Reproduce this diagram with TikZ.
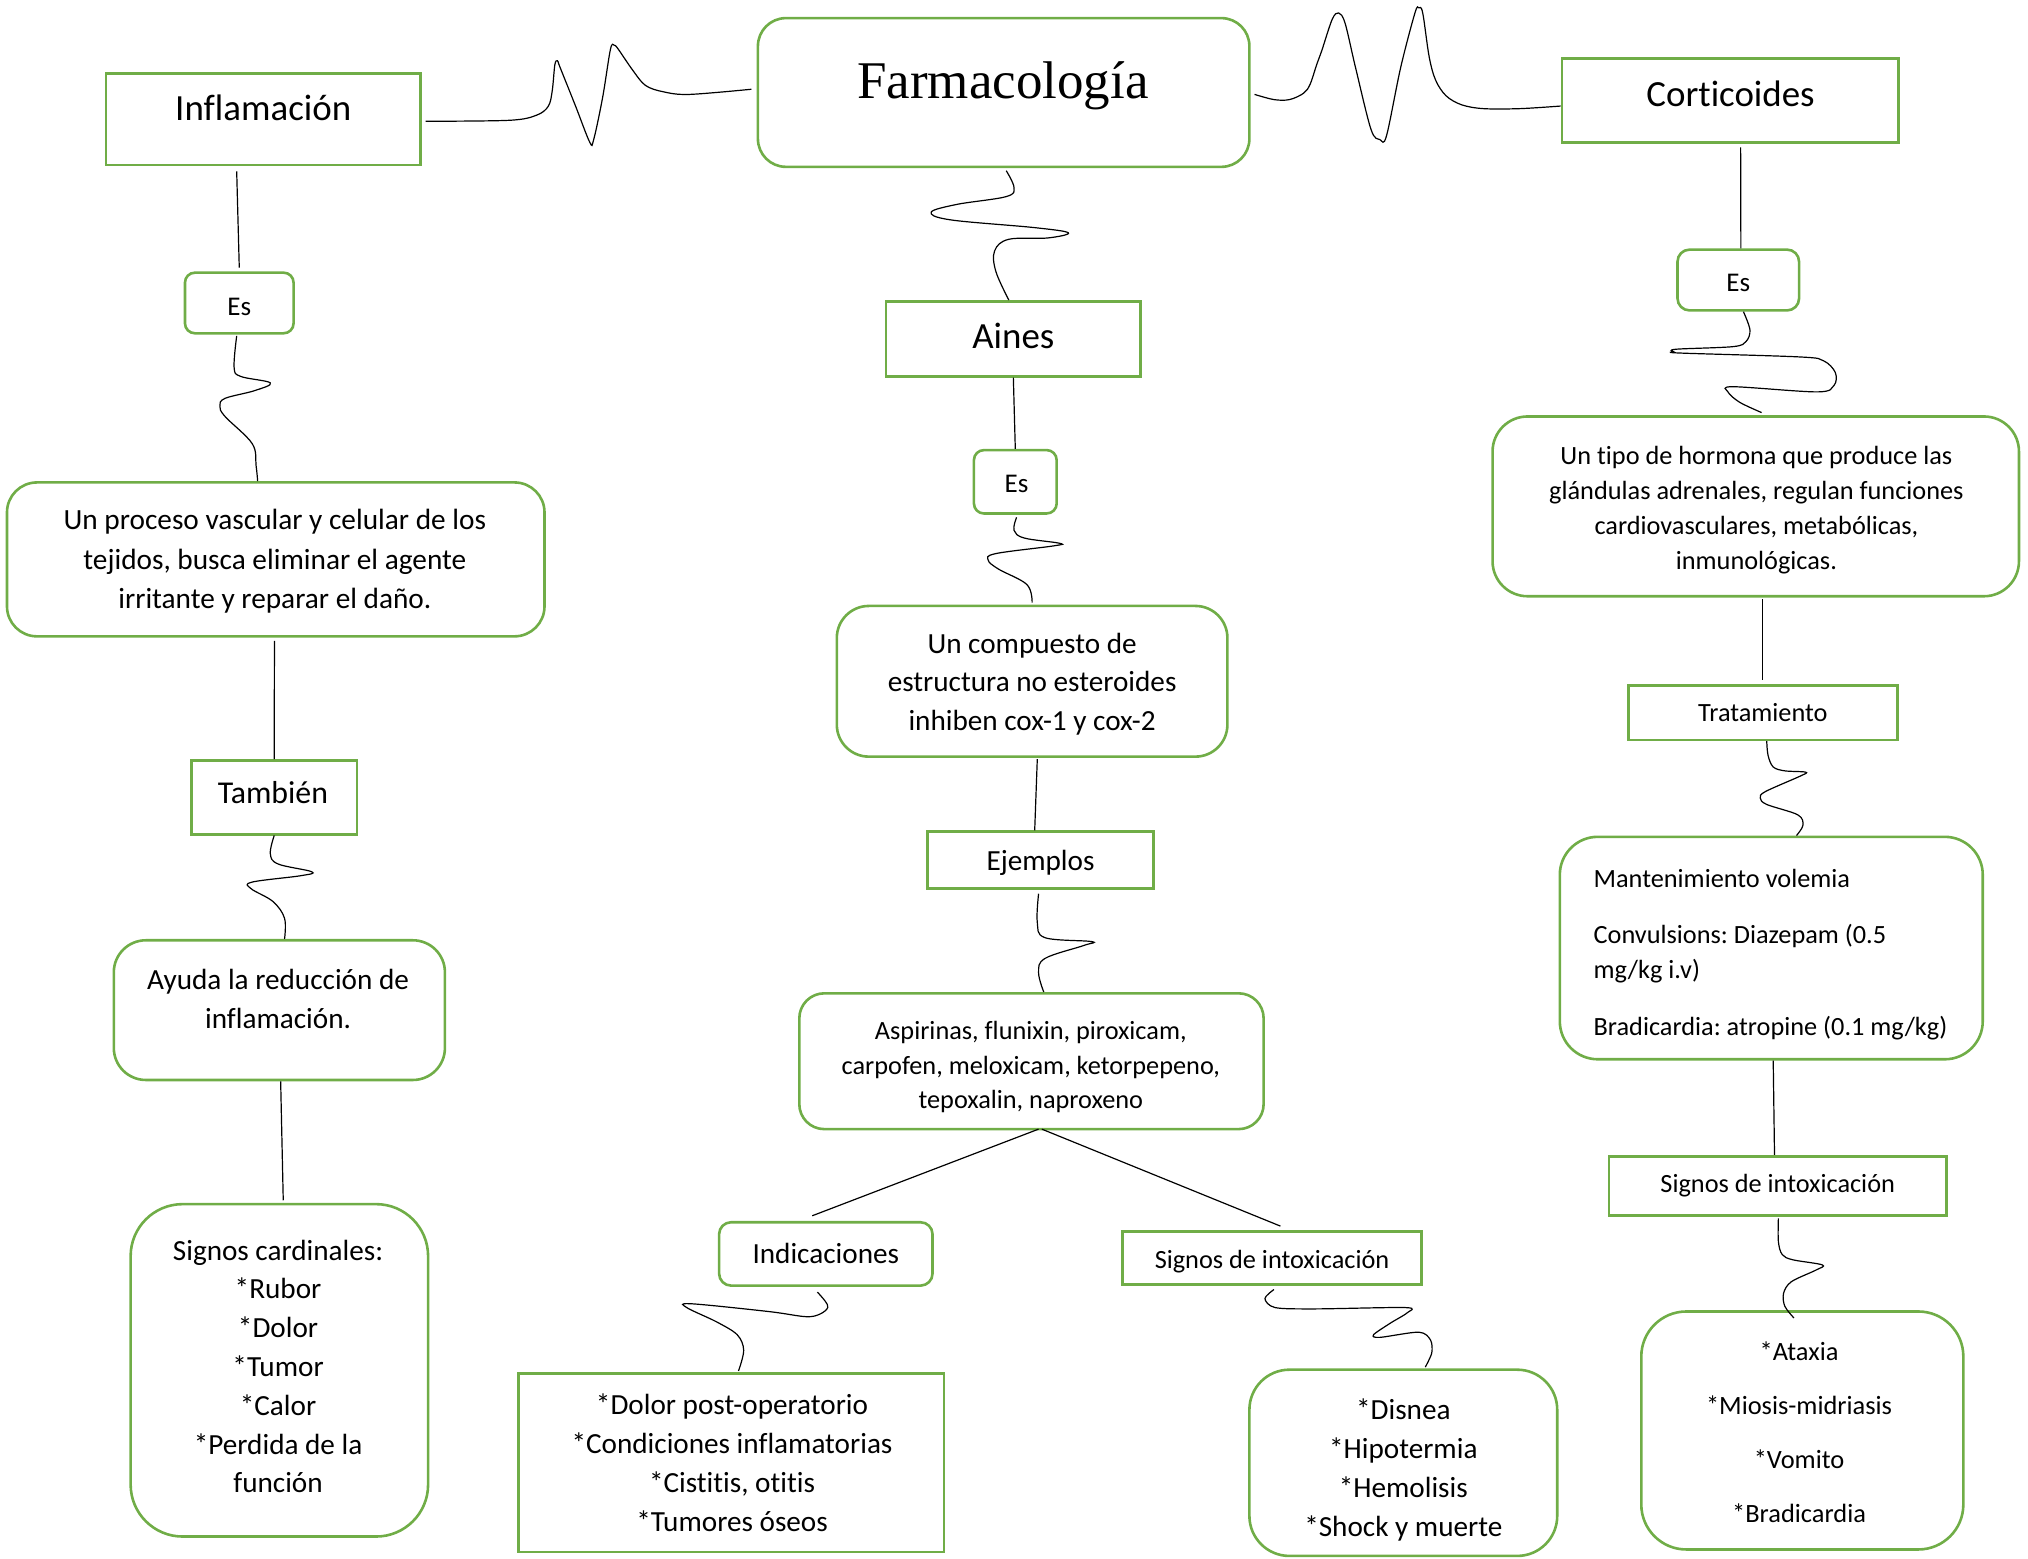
\documentclass[tikz,border=0pt]{standalone}
\usepackage{fontspec}
\setmainfont{Carlito}[Ligatures=NoCommon]
\newfontfamily\titlefont{Liberation Serif}
\usetikzlibrary{calc}
\definecolor{boxgreen}{HTML}{70AD47}
\frenchspacing
\newcommand{\fbig}{\fontsize{36.9}{44}\selectfont}
\newcommand{\fmed}{\fontsize{29.2}{38.8}\selectfont}
\newcommand{\fsm}{\fontsize{26.3}{34.9}\selectfont}
\newcommand{\fes}{\fontsize{27}{32}\selectfont}
\newcommand{\bxat}[6]{\node[#1, minimum width={(#5-#3)*1.2934pt}, minimum height={(#6-#4)*1.2934pt}] (#2) at ({(#3+#5)/2},{(#4+#6)/2}) {};}
\begin{document}
\begin{tikzpicture}[x=1.2934pt,y=-1.2934pt,
  bx/.style={draw=boxgreen, line width=2.6pt, inner sep=0pt, rectangle},
  rbx/.style={bx, rounded corners=#1},
  wire/.style={line width=1.2pt, black},
  lbl/.style={anchor=base, inner sep=0pt},
  blk/.style={align=center, inner sep=0pt},
]
\useasboundingbox (0,0) rectangle (1568,1205.35);

% ---------- boxes ----------
\bxat{bx}{infl}{82}{57}{325}{127.5}
\bxat{rbx=28pt}{farm}{586}{14}{966}{129}
\bxat{bx}{cort}{1207.6}{45}{1468}{110}
\bxat{rbx=10pt}{esA}{143}{210.8}{227}{257.7}
\bxat{rbx=30pt}{proc}{5.4}{373}{421}{492}
\bxat{bx}{tamb}{148}{588}{276}{645}
\bxat{rbx=32pt}{ayuda}{88}{727}{344}{835}
\bxat{rbx=52pt}{card}{101}{931}{331}{1188}
\bxat{bx}{aines}{685}{233}{882}{291}
\bxat{rbx=10pt}{esB}{753}{348}{817}{397}
\bxat{rbx=32pt}{comp}{647}{468.5}{949}{585}
\bxat{bx}{ejem}{717}{643}{892}{687}
\bxat{rbx=25pt}{asp}{618}{768}{977}{873}
\bxat{rbx=12pt}{indic}{556}{945}{721}{994}
\bxat{bx}{dolor}{401}{1062}{730}{1200}
\bxat{bx}{sigm}{868}{952}{1099}{993}
\bxat{rbx=40pt}{disn}{966}{1059}{1204}{1203}
\bxat{rbx=12pt}{esC}{1297}{193}{1391}{240}
\bxat{rbx=35pt}{horm}{1154}{322}{1561}{461}
\bxat{bx}{trat}{1259}{530}{1467}{572}
\bxat{rbx=38pt}{mant}{1206}{647}{1533}{819}
\bxat{bx}{sigr}{1244}{894}{1505}{940}
\bxat{rbx=45pt}{atax}{1269}{1014}{1518}{1198}

% ---------- texts ----------
\node[lbl, font=\fbig] (tinfl) at (203.5,92.8) {Inflamación};
\node[lbl, font=\titlefont\fontsize{53}{60}\selectfont] (tfarm) at (775.5,76) {Farmacología};
\node[lbl, font=\fbig] (tcort) at (1338,82) {Corticoides};
\node[lbl, font=\fbig] (taines) at (783.5,269.5) {Aines};
\node[lbl, font=\fes] (tesA) at (185,243.6) {Es};
\node[lbl, font=\fes] (tesB) at (786,380.6) {Es};
\node[lbl, font=\fes] (tesC) at (1344,225.5) {Es};
\node[lbl, font=\fontsize{31.8}{38}\selectfont] (ttamb) at (211,621.6) {También};
\node[lbl, font=\fmed] (tejem) at (804.5,673.4) {Ejemplos};
\node[lbl, font=\fmed] (tindic) at (638.5,976.6) {Indicaciones};
\node[lbl, font=\fsm] (tsigm) at (983.5,980.6) {Signos de intoxicación};
\node[lbl, font=\fsm] (ttrat) at (1363,557.8) {Tratamiento};
\node[lbl, font=\fsm] (tsigr) at (1374.5,922) {Signos de intoxicación};

\node[blk, font=\fontsize{29.3}{39.3}\selectfont] (tproc) at (212.5,434) {Un proceso vascular y celular de los\\tejidos, busca eliminar el agente\\irritante y reparar el daño.};
\node[blk, font=\fmed] (tayuda) at (215,772.5) {Ayuda la reducción de\\inflamación.};
\node[blk, font=\fmed] (tcard) at (215,1056.5) {Signos cardinales:\\*Rubor\\*Dolor\\*Tumor\\*Calor\\*Perdida de la\\función};
\node[blk, font=\fmed] (tcomp) at (798,529) {Un compuesto de\\estructura no esteroides\\inhiben cox-1 y cox-2};
\node[blk, font=\fsm] (tasp) at (797,825) {Aspirinas, flunixin, piroxicam,\\carpofen, meloxicam, ketorpepeno,\\tepoxalin, naproxeno};
\node[blk, font=\fmed] (tdolor) at (566,1131) {*Dolor post-operatorio\\*Condiciones inflamatorias\\*Cistitis, otitis\\*Tumores óseos};
\node[blk, font=\fmed] (tdisn) at (1085,1136.5) {*Disnea\\*Hipotermia\\*Hemolisis\\*Shock y muerte};
\node[blk, font=\fsm] (thorm) at (1358,394.5) {Un tipo de hormona que produce las\\glándulas adrenales, regulan funciones\\cardiovasculares, metabólicas,\\inmunológicas.};
\node[align=left, inner sep=0pt, anchor=west, font=\fsm] (tmant) at (1232,738) {Mantenimiento volemia\\[21.4pt]Convulsions: Diazepam (0.5\\mg/kg i.v)\\[21.4pt]Bradicardia: atropine (0.1 mg/kg)};
\node[blk, font=\fontsize{26.4}{53.9}\selectfont] (tatax) at (1391,1107.5) {*Ataxia\\*Miosis-midriasis\\*Vomito\\*Bradicardia};

% ---------- connectors ----------
\draw[wire] plot[smooth, tension=0.55] coordinates {($(infl.east)+(3,1.5)$) (394,93) (415,89) (424,82) (427,70) (429,50) (431,47) (433,52) (445,82) (456,110) (459,108) (466,75) (472,38) (475,35) (478,38) (489,54) (499,66) (513,71) (533,73) ($(farm.west)+(-4,-2.5)$)};
\draw[wire] plot[smooth, tension=0.55] coordinates {($(farm.east)+(3,1.5)$) (985,77) (997,77) (1008,72) (1013,65) (1018,50) (1022,39) (1030,15) (1035,10) (1040,18) (1048,52) (1060,100) (1067,108) (1072,105) (1083,52) (1094,10) (1097,6) (1100,10) (1105,44) (1110,62) (1118,74) (1130,81) (1147,84) (1175,84) ($(cort.west)+(0,4.5)$)};
\draw[wire] plot[smooth, tension=0.6] coordinates {($(farm.south)+(2,2)$) (784,145) (778,152) (740,158) (720,164) (735,170) (800,176) (826,180) (810,184) (780,185) (769,194) (770,210) ($(aines.north)+(-3.5,0)$)};

\draw[wire] ($(infl.south)+(-20.5,4)$) -- ($(esA.north)+(0,-2.8)$);
\draw[wire] plot[smooth, tension=0.6] coordinates {($(esA.south)+(-2,1)$) (181,284) (186,291) (209,296) (197,302) (174,308) (170,314) (174,322) (195,343) (198,360) ($(proc.north)+(-14,0)$)};
\draw[wire] ($(proc.south)+(-1,2.5)$) -- (tamb.north);
\draw[wire] plot[smooth, tension=0.6] coordinates {(tamb.south) (209,660) (215,668) (241,674) (233,677) (195,682) (194,687) (211,697) (220,710) ($(ayuda.north)+(4,0)$)};
\draw[wire] ($(ayuda.south)+(1,0)$) -- ($(card.north)+(3,-2)$);

\draw[wire] (aines.south) -- (esB.north);
\draw[wire] plot[smooth, tension=0.6] coordinates {($(esB.south)+(1,2)$) (784,410) (792,416) (819,420) (815,422) (770,428) (764,433) (772,440) (794,452) ($(comp.north)+(0,-1.5)$)};
\draw[wire] ($(comp.south)+(4,1)$) -- ($(ejem.north)+(-4.5,0)$);
\draw[wire] plot[smooth, tension=0.6] coordinates {($(ejem.south)+(-1.5,3)$) (802,713) (808,725) (844,728) (838,731) (808,741) (803,752) ($(asp.north)+(9.5,0)$)};
\draw[wire] ($(asp.south)+(5.5,-1)$) -- ($(indic.north)+(-10.5,-4)$);
\draw[wire] ($(asp.south)+(8,-1)$) -- ($(sigm.north)+(6.5,-3)$);
\draw[wire] plot[smooth, tension=0.55] coordinates {($(indic.south)+(-6.5,4)$) (638,1006) (640,1011) (634,1016) (623,1018) (594,1014) (534,1008) (531,1011) (554,1022) (570,1032) (575,1044) ($(dolor.north)+(5.5,-1)$)};
\draw[wire] plot[smooth, tension=0.5] coordinates {($(sigm.south)+(1.5,3)$) (978,1004) (986,1011) (1017,1012) (1087,1011) (1088,1015) (1075,1023) (1062,1032) (1067,1034) (1097,1030) (1106,1036) (1107,1046) ($(disn.north)+(17,-1)$)};

\draw[wire] ($(cort.south)+(8,3)$) -- ($(esC.north)+(2,0)$);
\draw[wire] plot[smooth, tension=0.55] coordinates {($(esC.south)+(4,0)$) (1353,255) (1350,264) (1340,268) (1296,270) (1294,272) (1300,273) (1392,276) (1410,279) (1419,288) (1418,298) (1405,303) (1340,299) (1336,303) (1345,311) ($(horm.north)+(4.5,-2)$)};
\draw[wire] ($(horm.south)+(5.5,1.5)$) -- ($(trat.north)+(0,-3)$);
\draw[wire] plot[smooth, tension=0.55] coordinates {($(trat.south)+(3,0)$) (1367,584) (1371,593) (1380,596) (1396,597) (1392,600) (1365,612) (1361,617) (1366,622) (1390,630) (1394,638) ($(mant.north)+(19.5,0)$)};
\draw[wire] ($(mant.south)+(1.5,0)$) -- ($(sigr.north)+(-2.5,0)$);
\draw[wire] plot[smooth, tension=0.55] coordinates {($(sigr.south)+(0.5,1)$) (1375,960) (1378,970) (1386,974) (1409,978) (1404,982) (1385,991) (1379,1000) (1380,1010) ($(atax.north)+(-6.5,6)$)};
\end{tikzpicture}
\end{document}
